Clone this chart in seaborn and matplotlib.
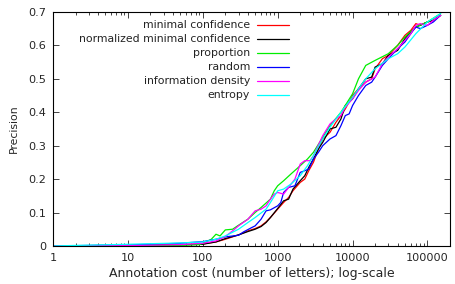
import numpy as np
import pandas as pd
import seaborn as sns
import matplotlib
matplotlib.use("Agg")
import matplotlib.pyplot as plt
from matplotlib.lines import Line2D
from matplotlib.ticker import FixedLocator, LogLocator, NullFormatter

# %%
# data (annotation cost vs precision)
series_names = ["minimal confidence", "normalized minimal confidence", "proportion",
                "random", "information density", "entropy"]
series_colors = ["#ff0000", "#000000", "#00ee00", "#0000ff", "#ff00ff", "#00ffff"]

x_minconf = [1, 10, 50, 100, 150, 200, 300, 400, 500, 600, 700, 800, 1000, 1200, 1400, 1600,
             2000, 2300, 2600, 3000, 3500, 4000, 5000, 6000, 7000, 8000, 10000, 12000, 15000,
             18000, 20000, 25000, 30000, 40000, 50000, 60000, 70000, 80000, 100000, 120000, 150000]
y_minconf = [0, 0.002, 0.004, 0.006, 0.012, 0.02, 0.033, 0.045, 0.052, 0.06, 0.072, 0.085, 0.11,
             0.13, 0.145, 0.165, 0.19, 0.2, 0.225, 0.25, 0.29, 0.32, 0.34, 0.37, 0.39, 0.41, 0.45,
             0.47, 0.49, 0.50, 0.53, 0.56, 0.57, 0.60, 0.63, 0.645, 0.665, 0.66, 0.67, 0.675, 0.69]

x_normconf = [1, 10, 50, 100, 150, 200, 300, 400, 500, 600, 700, 800, 1000, 1200, 1400, 1600,
              2000, 2300, 2600, 3000, 3500, 4000, 5000, 6000, 7000, 8000, 10000, 12000, 15000,
              18000, 20000, 25000, 30000, 40000, 50000, 60000, 70000, 80000, 100000, 120000, 150000]
y_normconf = [0, 0.002, 0.003, 0.005, 0.012, 0.022, 0.033, 0.043, 0.05, 0.058, 0.07, 0.085, 0.112,
              0.135, 0.14, 0.17, 0.195, 0.21, 0.235, 0.26, 0.29, 0.31, 0.35, 0.355, 0.38, 0.42,
              0.44, 0.47, 0.5, 0.505, 0.535, 0.545, 0.57, 0.585, 0.62, 0.64, 0.655, 0.66, 0.67,
              0.675, 0.69]

x_prop = [1, 10, 50, 90, 100, 130, 150, 170, 200, 250, 300, 400, 500, 600, 800, 900, 1000, 1200,
          1500, 2000, 2500, 3000, 4000, 5000, 7000, 10000, 12000, 15000, 20000, 30000, 40000,
          50000, 70000, 100000, 150000]
y_prop = [0, 0.001, 0.002, 0.004, 0.008, 0.02, 0.035, 0.03, 0.048, 0.05, 0.062, 0.08, 0.1, 0.115,
          0.14, 0.165, 0.18, 0.195, 0.215, 0.24, 0.26, 0.28, 0.325, 0.36, 0.40, 0.455, 0.5, 0.54,
          0.555, 0.575, 0.6, 0.625, 0.655, 0.67, 0.695]

x_random = [1, 10, 50, 100, 150, 200, 300, 350, 450, 500, 600, 700, 800, 1000, 1100, 1200, 1400,
            1700, 2000, 2300, 2600, 3000, 3500, 4000, 5000, 6000, 7000, 8000, 9000, 10000, 12000,
            15000, 18000, 20000, 25000, 30000, 40000, 50000, 60000, 70000, 80000, 100000, 120000,
            150000]
y_random = [0, 0.003, 0.008, 0.013, 0.02, 0.027, 0.032, 0.042, 0.055, 0.06, 0.08, 0.105, 0.108,
            0.12, 0.13, 0.16, 0.175, 0.18, 0.22, 0.225, 0.23, 0.26, 0.28, 0.30, 0.32, 0.33, 0.36,
            0.39, 0.395, 0.42, 0.45, 0.48, 0.49, 0.505, 0.54, 0.56, 0.59, 0.61, 0.635, 0.655, 0.65,
            0.66, 0.67, 0.69]

x_infodens = [1, 10, 50, 100, 150, 200, 250, 300, 400, 500, 600, 700, 800, 900, 1000, 1200, 1400,
              1700, 2000, 2300, 2700, 3000, 4000, 5000, 6000, 7000, 8000, 10000, 12000, 15000,
              20000, 25000, 30000, 40000, 50000, 60000, 70000, 80000, 100000, 120000, 150000]
y_infodens = [0, 0.001, 0.004, 0.008, 0.015, 0.028, 0.045, 0.06, 0.08, 0.105, 0.11, 0.12, 0.14,
              0.155, 0.16, 0.155, 0.175, 0.2, 0.245, 0.255, 0.255, 0.27, 0.33, 0.365, 0.38, 0.39,
              0.415, 0.44, 0.465, 0.49, 0.505, 0.545, 0.565, 0.59, 0.615, 0.635, 0.66, 0.665, 0.66,
              0.675, 0.69]

x_entropy = [1, 10, 50, 100, 150, 200, 300, 400, 500, 700, 800, 1000, 1200, 1500, 2000, 2500,
             3000, 4000, 5000, 7000, 10000, 15000, 20000, 30000, 40000, 50000, 70000, 100000,
             150000]
y_entropy = [0, 0.005, 0.009, 0.012, 0.02, 0.03, 0.05, 0.07, 0.085, 0.11, 0.13, 0.165, 0.17,
             0.185, 0.21, 0.24, 0.27, 0.32, 0.355, 0.40, 0.445, 0.5, 0.53, 0.56, 0.575, 0.595,
             0.635, 0.67, 0.695]

xs = [x_minconf, x_normconf, x_prop, x_random, x_infodens, x_entropy]
ys = [y_minconf, y_normconf, y_prop, y_random, y_infodens, y_entropy]

df = pd.concat(
    [pd.DataFrame({"cost": x, "precision": y, "method": name})
     for name, x, y in zip(series_names, xs, ys)],
    ignore_index=True,
)

# %%
sns.set_theme(style="ticks")
plt.rcParams["font.family"] = ["DejaVu Sans"]
plt.rcParams["font.size"] = 8

fig = plt.figure(figsize=(4.55, 2.84), dpi=100)
ax = fig.add_axes([0.1165, 0.134, 0.8725, 0.824])

sns.lineplot(data=df, x="cost", y="precision", hue="method", hue_order=series_names,
             palette=series_colors, estimator=None, sort=False, linewidth=0.9,
             legend=False, ax=ax)

ax.set_xscale("log")
ax.set_xlim(1, 200000)
ax.set_ylim(0, 0.7)
ax.xaxis.set_major_locator(FixedLocator([1, 10, 100, 1000, 10000, 100000]))
ax.set_xticklabels(["1", "10", "100", "1000", "10000", "100000"])
ax.xaxis.set_minor_locator(LogLocator(base=10, subs=np.arange(2, 10)))
ax.xaxis.set_minor_formatter(NullFormatter())
ax.set_yticks(np.arange(0, 0.71, 0.1))
ax.set_yticklabels(["0", "0.1", "0.2", "0.3", "0.4", "0.5", "0.6", "0.7"])
ax.tick_params(which="both", direction="in", top=True, right=True, labelsize=8.1, pad=5)
ax.tick_params(which="major", length=4, width=0.6)
ax.tick_params(which="minor", length=2, width=0.6)
for s in ax.spines.values():
    s.set_linewidth(0.8)
    s.set_color("black")

ax.set_xlabel("Annotation cost (number of letters); log-scale", fontsize=9, labelpad=3)
ax.set_ylabel("Precision", fontsize=7.8, labelpad=7)

# gnuplot-like key: right aligned text, line sample on the right
key_y0, key_dy = 0.945, 0.0598
for i, (name, col) in enumerate(zip(series_names, series_colors)):
    yy = key_y0 - i * key_dy
    ax.text(0.496, yy, name, transform=ax.transAxes, ha="right", va="center",
            fontsize=7.8, color="#222222")
    ax.add_line(Line2D([0.514, 0.594], [yy, yy], transform=ax.transAxes,
                       color=col, linewidth=0.9))

fig.savefig("out.png", dpi=100)
